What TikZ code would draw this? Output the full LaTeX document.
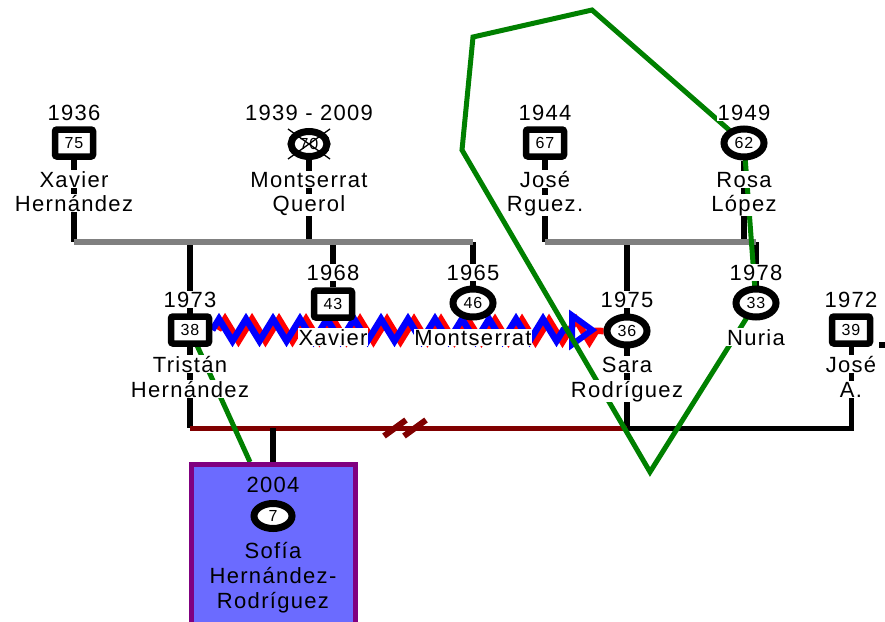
\documentclass[tikz,border=0pt]{standalone}
\usepackage{fontspec}
\setmainfont{Liberation Sans}[LetterSpace=6]
\usetikzlibrary{shapes.geometric}
\usetikzlibrary{decorations.pathmorphing}
\usetikzlibrary{backgrounds}
\newcommand\lblsize{\fontsize{22}{25}\selectfont}
\newcommand\numsize{\fontsize{16}{16}\selectfont}
\definecolor{kingreen}{HTML}{008000}
\definecolor{wedred}{HTML}{800000}
\definecolor{sibgray}{HTML}{808080}
\definecolor{boxblue}{HTML}{6B6BFF}
\definecolor{boxpurple}{HTML}{800080}
\definecolor{zigred}{HTML}{FF0000}
\definecolor{zigblue}{HTML}{0000FF}
\tikzstyle{male} = [rectangle, draw=black, line width=6.5pt, fill=white, rounded corners=2pt, minimum width=38pt, minimum height=27pt, inner sep=0pt, font=\numsize]
\tikzstyle{female} = [ellipse, draw=black, line width=7pt, fill=white, minimum width=40pt, minimum height=28pt, inner sep=0pt, font=\numsize]
\tikzstyle{yeartext} = [fill=white, inner sep=0.6pt, anchor=base, font=\lblsize]
\tikzstyle{nametext} = [yeartext]
\tikzstyle{boxtext} = [inner sep=0pt, anchor=base, font=\lblsize]
\tikzstyle{kinline} = [line width=6pt, black]
\tikzstyle{sibbar} = [line width=6pt, sibgray]
\tikzstyle{wedline} = [line width=5pt, wedred]
\tikzstyle{partnerline} = [line width=5pt, black]
\tikzstyle{closeline} = [line width=5pt, kingreen]
\tikzstyle{redzig} = [line width=6.5pt, zigred, decorate, decoration={zigzag, segment length=27pt, amplitude=11pt}]
\tikzstyle{bluezig} = [line width=6.5pt, zigblue, decorate, decoration={zigzag, segment length=27pt, amplitude=11pt}]
\tikzstyle{abusetip} = [isosceles triangle, isosceles triangle stretches, draw=zigblue, line width=6pt, minimum width=29pt, minimum height=20pt, inner sep=0pt]
\tikzstyle{sofiabox} = [rectangle, draw=boxpurple, fill=boxblue, line width=5pt, minimum width=164pt, minimum height=175pt]

\begin{document}
\begin{tikzpicture}[x=1pt, y=-1pt]
\useasboundingbox (0,0) rectangle (885,621);

% Generation 1, Hernandez side
\node[yeartext] (y-xavier) at (74,120) {1936};
\node[male] (xavier) at (74,143) {75};
\node[nametext] (n-xavier1) at (74,187) {Xavier};
\node[nametext] (n-xavier2) at (74,211) {Hernández};
\node[yeartext] (y-montse) at (309,120) {1939 - 2009};
\node[female, minimum width=36pt, minimum height=25pt] (montse) at (309,144) {70};
\node[nametext] (n-montse1) at (309,187) {Montserrat};
\node[nametext] (n-montse2) at (309,211) {Querol};
% Generation 1, Rodriguez side
\node[yeartext] (y-jose) at (545,120) {1944};
\node[male] (jose) at (545,143) {67};
\node[nametext] (n-jose1) at (545,187) {José};
\node[nametext] (n-jose2) at (545,211) {Rguez.};
\node[yeartext] (y-rosa) at (744,120) {1949};
\node[female] (rosa) at (744,143) {62};
\node[nametext] (n-rosa1) at (744,187) {Rosa};
\node[nametext] (n-rosa2) at (744,211) {López};

% Generation 2, upper row
\node[yeartext] (y-xavierjr) at (333,280) {1968};
\node[male] (xavierjr) at (333,304) {43};
\node[nametext] (n-xavierjr) at (333,345) {Xavier};
\node[yeartext] (y-montsejr) at (473,280) {1965};
\node[female] (montsejr) at (473,303) {46};
\node[nametext] (n-montsejr) at (473,345) {Montserrat};
\node[yeartext] (y-nuria) at (756,280) {1978};
\node[female] (nuria) at (756,303) {33};
\node[nametext] (n-nuria) at (756,345) {Nuria};
% Generation 2, lower row
\node[yeartext] (y-tristan) at (190,307) {1973};
\node[male] (tristan) at (190,330) {38};
\node[nametext] (n-tristan1) at (190,372) {Tristán};
\node[nametext] (n-tristan2) at (190,397) {Hernández};
\node[yeartext] (y-sara) at (627,307) {1975};
\node[female] (sara) at (627,331) {36};
\node[nametext] (n-sara1) at (627,372) {Sara};
\node[nametext] (n-sara2) at (627,397) {Rodríguez};
\node[yeartext] (y-josea) at (851,307) {1972};
\node[male] (josea) at (851,330) {39};
\node[nametext] (n-josea1) at (851,372) {José};
\node[nametext] (n-josea2) at (851,397) {A.};
\node[fill=black, minimum size=6pt, inner sep=0pt] (edgemark) at (882,345) {};

% Generation 3
\node[sofiabox, anchor=north] (sofia) at (273,462) {};
\node[boxtext] (y-sofia) at (273,492) {2004};
\node[female, minimum width=38pt, minimum height=25pt] (sofiasym) at (273,516) {7};
\node[boxtext] (n-sofia1) at (273,558) {Sofía};
\node[boxtext] (n-sofia2) at (273,583) {Hernández-};
\node[boxtext] (n-sofia3) at (273,608) {Rodríguez};

% deceased mark
\draw[line width=1.3pt] ([shift={(-21,-15)}]montse.center) -- ([shift={(21,15)}]montse.center);
\draw[line width=1.3pt] ([shift={(21,-15)}]montse.center) -- ([shift={(-21,15)}]montse.center);

\coordinate (bar) at (0,242);
\coordinate (wed) at (0,428);
\coordinate (divorce) at (405,428);
\coordinate (sofiatop) at (250,462);
\coordinate (loopbottom) at (650,472);
\coordinate (loopleft) at (462,150);
\coordinate (looptopleft) at (473,37);
\coordinate (looptop) at (592,10);

\begin{scope}[on background layer]
% family lines
\draw[kinline] (xavier) -- (xavier |- bar);
\draw[kinline] (montse) -- (montse |- bar);
\draw[kinline] (jose) -- (jose |- bar);
\draw[kinline] (rosa) -- (rosa |- bar);
\draw[kinline] (tristan |- bar) -- (tristan |- wed);
\draw[kinline] (xavierjr |- bar) -- (xavierjr);
\draw[kinline] (montsejr |- bar) -- (montsejr);
\draw[kinline] (sara |- bar) -- (sara |- wed);
\draw[kinline] (nuria |- bar) -- (nuria);
\draw[sibbar] (xavier |- bar) -- (montsejr |- bar);
\draw[sibbar] (jose |- bar) -- (nuria |- bar);
% couples
\draw[partnerline] (sara |- wed) -- (josea |- wed) -- (josea);
\draw[wedline] (tristan |- wed) -- (sara |- wed);
\draw[wedline, line width=6pt] ([shift={(-21,8)}]divorce) -- ++(22,-16);
\draw[wedline, line width=6pt] ([shift={(-1,8)}]divorce) -- ++(22,-16);
\draw[kinline] (sofia.north |- wed) -- (sofia.north);
% zigzag relation
\draw[redzig] ([xshift=6pt]tristan.east) -- (sara.west);
\node[abusetip, anchor=east] (abuse) at (600,330) {};
\draw[bluezig] (tristan.east) -- (abuse.west);
% green lines
\draw[closeline] (tristan.center) -- (sofiatop);
\draw[closeline] (rosa.center) -- (nuria.center) -- (loopbottom) -- (loopleft) -- (looptopleft) -- (looptop) -- cycle;
\end{scope}
\end{tikzpicture}
\end{document}
